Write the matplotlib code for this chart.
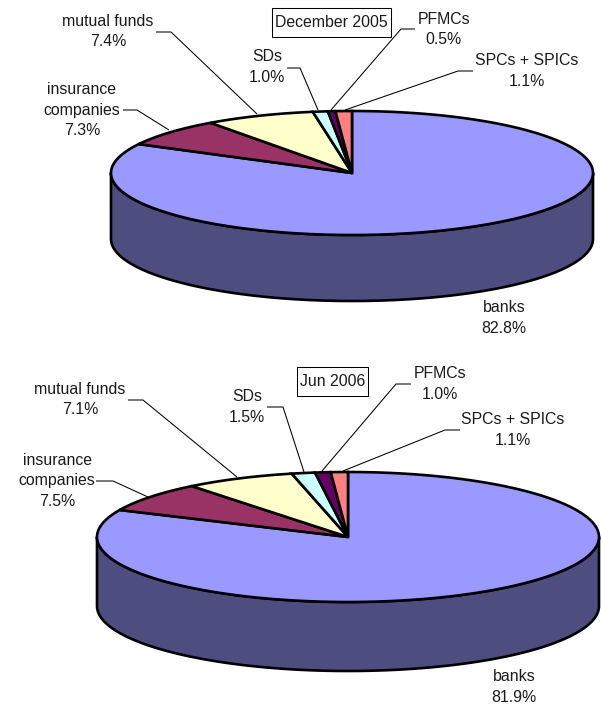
import numpy as np
import matplotlib
matplotlib.use('Agg')
import matplotlib.pyplot as plt
from matplotlib.patches import Polygon, Rectangle

plt.rcParams['font.family'] = ['Liberation Sans', 'DejaVu Sans']

# shares in percent, clockwise from 12 o'clock
categories = ['banks', 'insurance\ncompanies', 'mutual funds', 'SDs', 'PFMCs', 'SPCs + SPICs']
shares_dec = [82.8, 7.3, 7.4, 1.0, 0.5, 1.1]
shares_jun = [81.9, 7.5, 7.1, 1.5, 1.0, 1.1]
colors = ['#9999FF', '#993366', '#FFFFCC', '#CCFFFF', '#660066', '#FF8080']
side_color = '#4D4D80'

fig = plt.figure(figsize=(6.01, 7.05), dpi=100)
ax = fig.add_axes([0, 0, 1, 1])
ax.set_xlim(0, 601)
ax.set_ylim(705, 0)
ax.axis('off')

LW = 1.9
FS = 11.4


def draw_pie(shares, cx, cy, rx, ry, depth):
    # side wall, front half of the ellipse only
    t = np.linspace(np.pi / 2, 3 * np.pi / 2, 200)
    x = cx + rx * np.sin(t)
    y = cy - ry * np.cos(t)
    xs = np.concatenate([x, x[::-1]])
    ys = np.concatenate([y, y[::-1] + depth])
    ax.add_patch(Polygon(np.column_stack([xs, ys]), closed=True, fc=side_color, ec='black', lw=LW, joinstyle='round'))
    # top wedges
    edges = np.cumsum([0] + list(shares)) / sum(shares) * 2 * np.pi
    for i in range(len(shares)):
        t = np.linspace(edges[i], edges[i + 1], 200)
        px = np.concatenate([[cx], cx + rx * np.sin(t)])
        py = np.concatenate([[cy], cy - ry * np.cos(t)])
        ax.add_patch(Polygon(np.column_stack([px, py]), closed=True, fc=colors[i], ec='black', lw=LW, joinstyle='miter'))


def label(x, y, name, value):
    ax.text(x, y, f'{name}\n{value:.1f}%', ha='center', va='center', fontsize=FS, color='#1a1a1a', linespacing=1.46)


def leader(pts):
    pts = np.array(pts)
    ax.plot(pts[:, 0], pts[:, 1], color='black', lw=0.75, solid_capstyle='butt', zorder=5)


def title_box(x0, y0, x1, y1, s):
    ax.add_patch(Rectangle((x0, y0), x1 - x0, y1 - y0, fc='white', ec='black', lw=0.75))
    ax.text((x0 + x1) / 2, (y0 + y1) / 2, s, ha='center', va='center', fontsize=FS, color='#1a1a1a')


# December 2005
draw_pie(shares_dec, 352, 173, 241, 62, 66)
title_box(272, 8, 391, 37, 'December 2005')
label(504, 318, categories[0], shares_dec[0])
label(82, 110, categories[1], shares_dec[1])
label(108, 31.5, categories[2], shares_dec[2])
label(267, 67, categories[3], shares_dec[3])
label(444, 29.5, categories[4], shares_dec[4])
label(526.5, 71, categories[5], shares_dec[5])
leader([(123, 110), (137, 110), (169, 130)])
leader([(156, 32), (171, 32), (257, 114)])
leader([(287, 68), (300, 68), (318, 110)])
leader([(415, 29), (401, 29), (331, 110)])
leader([(473, 71), (458, 71), (345, 110)])

# Jun 2006
draw_pie(shares_jun, 348, 537, 251, 65, 69)
title_box(297, 367, 368, 396, 'Jun 2006')
label(514, 687, categories[0], shares_jun[0])
label(57, 481, categories[1], shares_jun[1])
label(80, 399.5, categories[2], shares_jun[2])
label(247, 407, categories[3], shares_jun[3])
label(440, 384, categories[4], shares_jun[4])
label(513, 430, categories[5], shares_jun[5])
leader([(96, 481), (113, 481), (148, 497)])
leader([(128, 400), (143, 400), (237, 477)])
leader([(267, 407), (283, 407), (304, 472)])
leader([(411, 384), (396, 384), (322, 471)])
leader([(460, 430), (445, 430), (343, 471)])

fig.savefig('out.png', dpi=100)
